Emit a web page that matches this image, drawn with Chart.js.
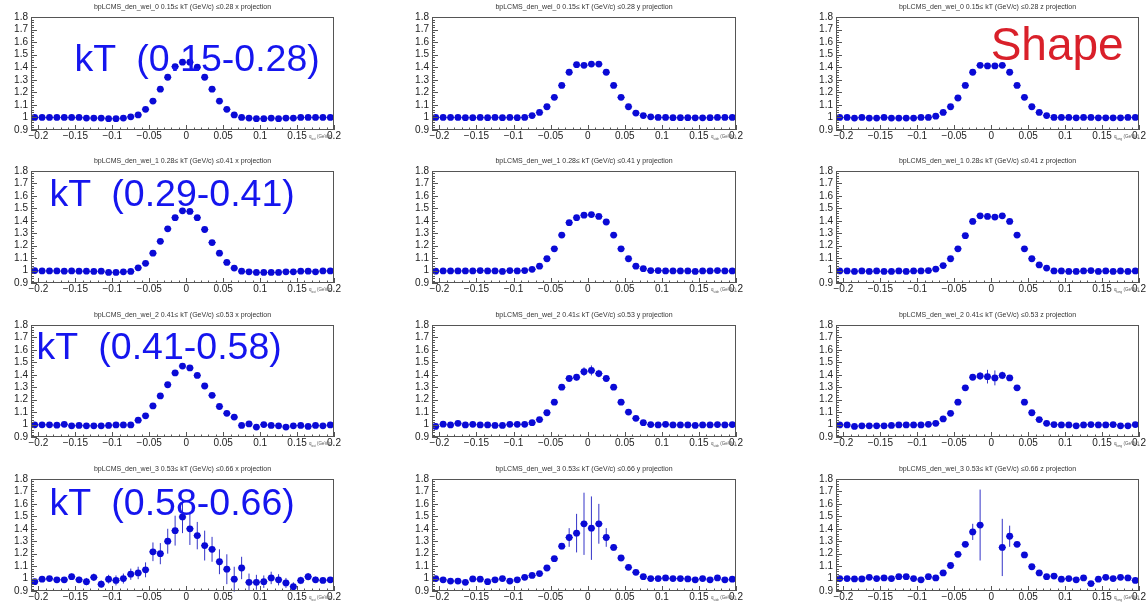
<!DOCTYPE html>
<html>
<head>
<meta charset="utf-8">
<script src="https://cdn.jsdelivr.net/npm/chart.js@4.4.1/dist/chart.umd.min.js"></script>
<style>
  html, body { margin: 0; padding: 0; background: #fff; }
  #page { position: relative; width: 1146px; height: 603px; overflow: hidden; font-family: "Liberation Sans", Arial, sans-serif; }
  .pad { position: absolute; }
  .ttl { position: absolute; font-size: 7px; line-height: 8px; color: #333; white-space: nowrap; transform: translateX(-50%); }
  .kt { position: absolute; font-size: 37.5px; line-height: 37.5px; color: #1515ee; white-space: pre; }
  .shape { position: absolute; font-size: 46px; line-height: 46px; color: #d9202a; white-space: pre; }
  .xt { position: absolute; font-size: 4.5px; line-height: 5px; color: #555; white-space: nowrap; }
  .xt sub { font-size: 3px; }
</style>
</head>
<body>
<div id="page"></div>
<script>
// --- Bin centres (q, GeV/c) ---
const binCenters = [
  -0.205, -0.195, -0.185, -0.175, -0.165, -0.155, -0.145, -0.135, -0.125, -0.115,
  -0.105, -0.095, -0.085, -0.075, -0.065, -0.055, -0.045, -0.035, -0.025, -0.015,
  -0.005, 0.005, 0.015, 0.025, 0.035, 0.045, 0.055, 0.065, 0.075, 0.085,
  0.095, 0.105, 0.115, 0.125, 0.135, 0.145, 0.155, 0.165, 0.175, 0.185, 0.195
];

// --- Correlation values, one array per kT bin and projection ---
const kt0X = [1.0, 1.0, 1.0, 1.0, 1.0, 1.0, 1.0, 0.995, 0.995, 0.995,
  0.99, 0.99, 0.995, 1.005, 1.02, 1.065, 1.13, 1.225, 1.32, 1.405,
  1.44, 1.44, 1.4, 1.32, 1.225, 1.13, 1.065, 1.02, 1.0, 0.995,
  0.99, 0.99, 0.995, 0.99, 0.995, 0.995, 1.0, 1.0, 1.0, 1.0, 1.0];
const kt0Y = [1.0, 1.0, 1.0, 1.0, 0.998, 0.998, 1.0, 0.998, 1.0, 0.998,
  1.0, 0.998, 1.0, 1.015, 1.04, 1.085, 1.16, 1.255, 1.36, 1.42,
  1.415, 1.425, 1.425, 1.36, 1.255, 1.16, 1.085, 1.035, 1.015, 1.005,
  1.0, 1.0, 0.998, 0.998, 0.998, 0.997, 0.997, 0.998, 1.0, 1.0, 1.0];
const kt0Z = [1.0, 1.0, 0.995, 1.0, 0.995, 0.995, 1.0, 0.995, 0.995, 0.995,
  0.995, 1.0, 1.0, 1.01, 1.04, 1.085, 1.155, 1.255, 1.36, 1.415,
  1.41, 1.41, 1.415, 1.36, 1.255, 1.16, 1.085, 1.04, 1.015, 1.0,
  1.0, 1.0, 0.997, 1.0, 1.0, 0.997, 0.997, 0.997, 0.997, 1.0, 1.0];

const kt1X = [1.0, 0.997, 0.997, 0.997, 0.995, 0.997, 0.995, 0.995, 0.993, 0.995,
  0.985, 0.985, 0.99, 0.993, 1.022, 1.058, 1.14, 1.235, 1.335, 1.425,
  1.48, 1.475, 1.425, 1.33, 1.225, 1.14, 1.065, 1.02, 0.995, 0.99,
  0.985, 0.985, 0.985, 0.985, 0.99, 0.99, 0.995, 0.995, 0.99, 0.997, 0.997];
const kt1Y = [0.995, 0.997, 0.997, 0.997, 0.997, 0.997, 1.0, 0.997, 0.997, 0.993,
  1.0, 0.997, 1.0, 1.01, 1.035, 1.095, 1.175, 1.285, 1.385, 1.425,
  1.445, 1.45, 1.435, 1.39, 1.285, 1.175, 1.095, 1.035, 1.015, 1.0,
  1.0, 0.997, 0.997, 0.997, 0.997, 0.993, 0.997, 0.997, 1.0, 0.997, 0.997];
const kt1Z = [0.997, 0.997, 0.993, 0.997, 0.993, 0.997, 0.993, 0.993, 0.997, 0.993,
  0.997, 0.997, 1.0, 1.012, 1.04, 1.095, 1.175, 1.28, 1.395, 1.44,
  1.435, 1.43, 1.44, 1.395, 1.285, 1.175, 1.095, 1.045, 1.02, 0.997,
  0.997, 0.993, 0.993, 0.997, 1.0, 0.993, 0.997, 0.993, 0.997, 0.993, 0.997];

const kt2X = [0.998, 0.998, 0.998, 0.995, 1.002, 0.99, 0.993, 0.99, 0.99, 0.99,
  0.993, 0.997, 0.997, 0.997, 1.035, 1.07, 1.15, 1.23, 1.32, 1.415,
  1.47, 1.455, 1.395, 1.31, 1.235, 1.145, 1.09, 1.06, 0.993, 1.005,
  0.98, 1.0, 0.993, 0.99, 0.98, 0.99, 0.993, 0.985, 0.993, 0.99, 0.997];
const kt2Y = [0.985, 1.003, 0.997, 1.01, 0.997, 1.002, 0.997, 0.997, 0.993, 0.993,
  1.002, 1.002, 1.002, 1.015, 1.04, 1.095, 1.18, 1.3, 1.37, 1.38,
  1.425, 1.435, 1.41, 1.37, 1.3, 1.18, 1.1, 1.05, 1.015, 1.0,
  0.997, 1.002, 0.997, 0.997, 0.997, 0.993, 0.997, 0.997, 1.0, 0.997, 1.0];
const kt2Z = [0.997, 0.997, 0.985, 0.99, 0.99, 0.99, 0.99, 0.993, 0.997, 0.997,
  0.997, 0.997, 1.002, 1.01, 1.045, 1.09, 1.18, 1.295, 1.38, 1.39,
  1.385, 1.375, 1.395, 1.375, 1.295, 1.18, 1.095, 1.04, 1.01, 1.0,
  0.997, 0.997, 0.99, 0.997, 1.0, 0.997, 0.997, 1.0, 0.99, 0.99, 1.0];

const kt3X = [0.975, 0.995, 1.0, 0.99, 0.99, 1.015, 0.99, 0.975, 1.01, 0.955,
  0.995, 0.985, 1.0, 1.035, 1.045, 1.07, 1.215, 1.2, 1.3, 1.385,
  1.495, 1.4, 1.345, 1.265, 1.235, 1.135, 1.075, 0.995, 1.085, 0.97,
  0.97, 0.975, 1.005, 0.99, 0.965, 0.935, 0.985, 1.015, 0.99, 0.985, 0.99];
const kt3Y = [1.0, 0.99, 0.98, 0.98, 0.97, 0.997, 0.995, 0.975, 0.99, 1.0,
  0.98, 0.99, 1.01, 1.025, 1.04, 1.085, 1.16, 1.26, 1.33, 1.365,
  1.44, 1.405, 1.44, 1.33, 1.25, 1.165, 1.09, 1.05, 1.015, 1.0,
  1.0, 1.005, 1.0, 1.0, 0.997, 0.99, 1.0, 0.99, 1.005, 0.99, 0.995];
const kt3Z = [1.0, 1.0, 0.997, 0.997, 1.01, 1.0, 1.005, 1.0, 1.015, 1.015,
  1.0, 0.99, 1.015, 1.005, 1.045, 1.105, 1.195, 1.275, 1.375, 1.43,
  null, null, 1.25, 1.34, 1.275, 1.19, 1.095, 1.045, 1.015, 1.02,
  0.995, 1.0, 0.99, 1.005, 0.96, 0.995, 1.01, 1.0, 1.01, 1.005, 0.985];

// --- Statistical errors (only where visible) ---
const kt2YErr = [0, 0, 0, 0, 0, 0, 0, 0, 0, 0,
  0, 0, 0, 0, 0, 0, 0, 0.01, 0.015, 0.025,
  0.035, 0.04, 0.03, 0.015, 0.01, 0, 0, 0, 0, 0,
  0, 0, 0, 0, 0, 0, 0, 0, 0, 0, 0];
const kt2ZErr = [0, 0, 0, 0, 0, 0, 0, 0, 0, 0,
  0, 0, 0, 0, 0, 0, 0, 0.01, 0.015, 0.03,
  0.055, 0.06, 0.03, 0.015, 0.01, 0, 0, 0, 0, 0,
  0, 0, 0, 0, 0, 0, 0, 0, 0, 0, 0];
const kt3XErr = [0.02, 0.02, 0.02, 0.02, 0.02, 0.025, 0.025, 0.03, 0.03, 0.03,
  0.035, 0.04, 0.04, 0.045, 0.05, 0.06, 0.075, 0.085, 0.1, 0.12,
  0.13, 0.13, 0.11, 0.12, 0.1, 0.1, 0.12, 0.1, 0.09, 0.07,
  0.06, 0.05, 0.05, 0.045, 0.04, 0.035, 0.03, 0.03, 0.025, 0.02, 0.02];
const kt3YErr = [0, 0, 0, 0, 0, 0, 0, 0, 0, 0,
  0, 0, 0, 0, 0, 0, 0.01, 0.025, 0.075, 0.155,
  0.25, 0.255, 0.16, 0.075, 0.025, 0.01, 0, 0, 0, 0,
  0, 0, 0, 0, 0, 0, 0, 0, 0, 0, 0];
const kt3ZErr = [0, 0, 0, 0, 0, 0, 0, 0, 0, 0,
  0, 0, 0, 0, 0, 0.01, 0.01, 0.015, 0.065, 0.285,
  0, 0, 0.23, 0.085, 0.02, 0.01, 0, 0, 0, 0,
  0, 0, 0, 0, 0, 0, 0, 0, 0, 0, 0];

// --- Axis ticks ---
const xTickVals = [-0.2, -0.15, -0.1, -0.05, 0, 0.05, 0.1, 0.15, 0.2];
const xTickLabels = ["\u22120.2", "\u22120.15", "\u22120.1", "\u22120.05", "0", "0.05", "0.1", "0.15", "0.2"];
const yTickVals = [0.9, 1.0, 1.1, 1.2, 1.3, 1.4, 1.5, 1.6, 1.7, 1.8];
const yTickLabels = ["0.9", "1", "1.1", "1.2", "1.3", "1.4", "1.5", "1.6", "1.7", "1.8"];

// --- Labels ---
const histNames = ["bpLCMS_den_wei_0", "bpLCMS_den_wei_1", "bpLCMS_den_wei_2", "bpLCMS_den_wei_3"];
const ktRanges = ["0.15\u2264 kT (GeV/c) \u22640.28", "0.28\u2264 kT (GeV/c) \u22640.41",
  "0.41\u2264 kT (GeV/c) \u22640.53", "0.53\u2264 kT (GeV/c) \u22640.66"];
const projNames = ["x", "y", "z"];
const axisNames = ["out", "side", "long"];
const ktLabels = ["kT  (0.15-0.28)", "kT  (0.29-0.41)", "kT  (0.41-0.58)", "kT  (0.58-0.66)"];

const panelValues = [[kt0X, kt0Y, kt0Z], [kt1X, kt1Y, kt1Z], [kt2X, kt2Y, kt2Z], [kt3X, kt3Y, kt3Z]];
const panelErrs = [[null, null, null], [null, null, null], [null, kt2YErr, kt2ZErr], [kt3XErr, kt3YErr, kt3ZErr]];

// --- Page layout: frame edges of each pad ---
const colLeft = [31, 432, 836];
const colRight = [334, 736, 1139];
const rowTop = [16, 170, 324, 478];
const rowBottom = [130, 283, 437, 591];
const ktLabelPos = [[74.5, 72], [49.5, 207], [36.5, 360], [49.5, 516]];

const family = '"Liberation Sans", Arial, sans-serif';
const markerColor = "#0a0ad6";
const barColor = "#3434c8";
const binHalf = 0.005;
const padL = 31, padR = 10, padT = 8, padB = 16;

const page = document.getElementById("page");

// horizontal bin-width bars and vertical error bars under the markers
const errorBars = {
  id: "errorBars",
  beforeDatasetsDraw(chart) {
    const { ctx, scales: { x, y } } = chart;
    ctx.save();
    ctx.strokeStyle = barColor;
    ctx.lineWidth = 1;
    ctx.beginPath();
    chart.data.datasets[0].data.forEach(p => {
      const px = x.getPixelForValue(p.x);
      const py = y.getPixelForValue(p.y);
      ctx.moveTo(x.getPixelForValue(p.x - binHalf), py);
      ctx.lineTo(x.getPixelForValue(p.x + binHalf), py);
      if (p.e) {
        ctx.moveTo(px, y.getPixelForValue(p.y - p.e));
        ctx.lineTo(px, y.getPixelForValue(p.y + p.e));
      }
    });
    ctx.stroke();
    ctx.restore();
  }
};

// ROOT-style frame with inward ticks
const rootFrame = {
  id: "rootFrame",
  afterDatasetsDraw(chart) {
    const { ctx, chartArea: a, scales: { x, y } } = chart;
    ctx.save();
    ctx.strokeStyle = "#555";
    ctx.lineWidth = 1;
    ctx.strokeRect(Math.round(a.left) + 0.5, Math.round(a.top) + 0.5,
      Math.round(a.width) - 1, Math.round(a.height) - 1);
    ctx.beginPath();
    for (let k = 45; k <= 90; k++) {
      const py = Math.round(y.getPixelForValue(k / 50)) + 0.5;
      const len = k % 5 === 0 ? 6 : 3;
      ctx.moveTo(a.left, py);
      ctx.lineTo(a.left + len, py);
    }
    for (let k = -21; k <= 20; k++) {
      const px = Math.round(x.getPixelForValue(k / 100)) + 0.5;
      const len = k % 5 === 0 ? 5 : 2.5;
      ctx.moveTo(px, a.bottom);
      ctx.lineTo(px, a.bottom - len);
    }
    ctx.stroke();
    ctx.restore();
  }
};

function makePanel(row, col) {
  const fL = colLeft[col], fR = colRight[col], fT = rowTop[row], fB = rowBottom[row];
  const w = fR - fL + padL + padR;
  const h = fB - fT + padT + padB;

  const canvas = document.createElement("canvas");
  canvas.className = "pad";
  canvas.width = w;
  canvas.height = h;
  canvas.style.left = (fL - padL) + "px";
  canvas.style.top = (fT - padT) + "px";
  canvas.style.width = w + "px";
  canvas.style.height = h + "px";
  page.appendChild(canvas);

  const vals = panelValues[row][col];
  const errs = panelErrs[row][col];
  const points = binCenters
    .map((x, i) => ({ x, y: vals[i], e: errs ? errs[i] : 0 }))
    .filter(p => p.y !== null);

  new Chart(canvas.getContext("2d"), {
    type: "scatter",
    data: {
      datasets: [{
        data: points,
        pointRadius: 3.4,
        pointHoverRadius: 3.4,
        backgroundColor: markerColor,
        borderWidth: 0
      }]
    },
    options: {
      responsive: false,
      animation: false,
      events: [],
      layout: { padding: { top: padT, right: padR, left: 0, bottom: 0 } },
      plugins: { legend: { display: false }, tooltip: { enabled: false }, title: { display: false } },
      scales: {
        x: {
          type: "linear", min: -0.21, max: 0.2,
          afterBuildTicks: ax => { ax.ticks = xTickVals.map(v => ({ value: v })); },
          afterFit: ax => { ax.height = padB; },
          grid: { display: false, drawTicks: false },
          border: { display: false },
          ticks: {
            autoSkip: false, maxRotation: 0, padding: 0,
            font: { size: 10, family }, color: "#222",
            callback: (v, i) => xTickLabels[i]
          }
        },
        y: {
          min: 0.9, max: 1.8,
          afterBuildTicks: ax => { ax.ticks = yTickVals.map(v => ({ value: v })); },
          afterFit: ax => { ax.width = padL; },
          grid: { display: false, drawTicks: false },
          border: { display: false },
          ticks: {
            autoSkip: false, padding: 3,
            font: { size: 10, family }, color: "#222",
            callback: (v, i) => yTickLabels[i]
          }
        }
      }
    },
    plugins: [errorBars, rootFrame]
  });

  // pad title
  const t = document.createElement("div");
  t.className = "ttl";
  t.textContent = `${histNames[row]} ${ktRanges[row]} ${projNames[col]} projection`;
  t.style.left = ((fL + fR) / 2) + "px";
  t.style.top = (fT - 13) + "px";
  page.appendChild(t);

  // axis title, squeezed at the right end of the x axis
  const xt = document.createElement("div");
  xt.className = "xt";
  xt.innerHTML = `q<sub>${axisNames[col]}</sub> (GeV/c)`;
  xt.style.left = (fR - 25) + "px";
  xt.style.top = (fB + 4) + "px";
  page.appendChild(xt);
}

for (let r = 0; r < 4; r++) {
  for (let c = 0; c < 3; c++) makePanel(r, c);
}

// kT range annotations over the first column
ktLabels.forEach((txt, r) => {
  const d = document.createElement("div");
  d.className = "kt";
  d.textContent = txt;
  d.style.left = ktLabelPos[r][0] + "px";
  d.style.top = (ktLabelPos[r][1] - 31.7) + "px";
  page.appendChild(d);
});

const shape = document.createElement("div");
shape.className = "shape";
shape.textContent = "Shape";
shape.style.left = "990.7px";
shape.style.top = "21px";
page.appendChild(shape);
</script>
</body>
</html>
